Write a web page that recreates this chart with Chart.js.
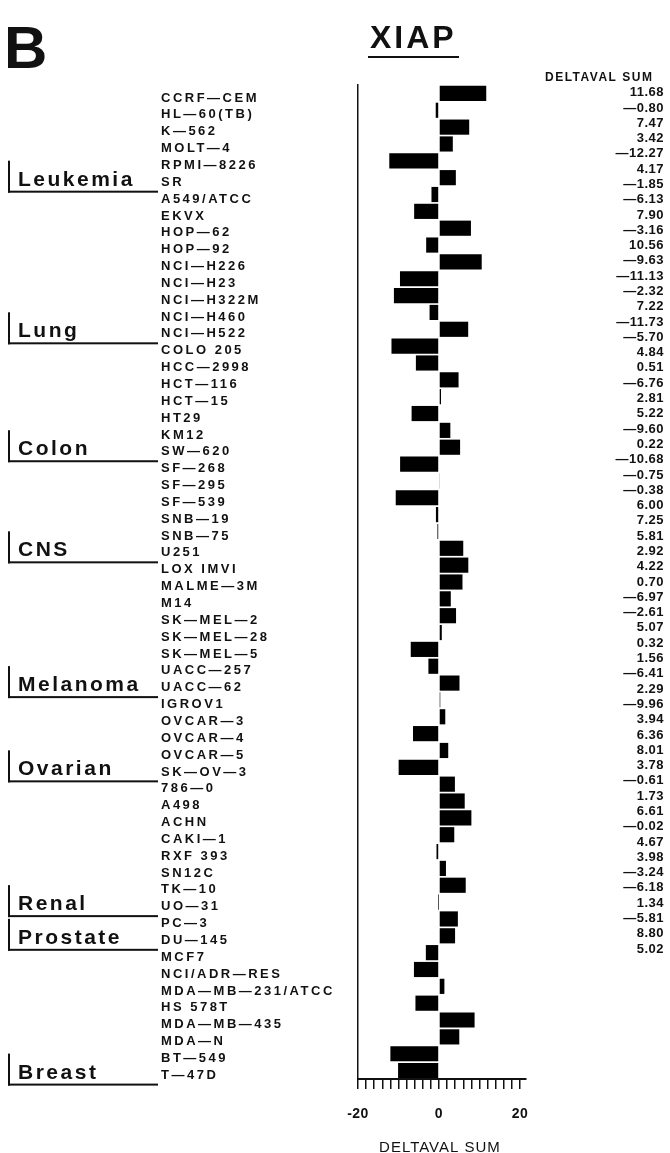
<!DOCTYPE html>
<html>
<head>
<meta charset="utf-8">
<script src="https://cdn.jsdelivr.net/npm/chart.js@4.4.1/dist/chart.umd.min.js"></script>
<style>
  html, body { margin: 0; padding: 0; background: #fff; }
  #xiap-chart { display: block; }
</style>
</head>
<body>
<canvas id="xiap-chart" width="670" height="1153"></canvas>
<script>
const cellLines = [
  'CCRF-CEM', 'HL-60(TB)', 'K-562', 'MOLT-4', 'RPMI-8226', 'SR',
  'A549/ATCC', 'EKVX', 'HOP-62', 'HOP-92', 'NCI-H226', 'NCI-H23', 'NCI-H322M', 'NCI-H460', 'NCI-H522',
  'COLO 205', 'HCC-2998', 'HCT-116', 'HCT-15', 'HT29', 'KM12', 'SW-620',
  'SF-268', 'SF-295', 'SF-539', 'SNB-19', 'SNB-75', 'U251',
  'LOX IMVI', 'MALME-3M', 'M14', 'SK-MEL-2', 'SK-MEL-28', 'SK-MEL-5', 'UACC-257', 'UACC-62',
  'IGROV1', 'OVCAR-3', 'OVCAR-4', 'OVCAR-5', 'SK-OV-3',
  '786-0', 'A498', 'ACHN', 'CAKI-1', 'RXF 393', 'SN12C', 'TK-10', 'UO-31',
  'PC-3', 'DU-145',
  'MCF7', 'NCI/ADR-RES', 'MDA-MB-231/ATCC', 'HS 578T', 'MDA-MB-435', 'MDA-N', 'BT-549', 'T-47D'
];

// last two (BT-549, T-47D) are read off the bars, they have no printed value
const deltavalSum = [
  11.68, -0.80, 7.47, 3.42, -12.27, 4.17,
  -1.85, -6.13, 7.90, -3.16, 10.56, -9.63, -11.13, -2.32, 7.22,
  -11.73, -5.70, 4.84, 0.51, -6.76, 2.81, 5.22,
  -9.60, 0.22, -10.68, -0.75, -0.38, 6.00,
  7.25, 5.81, 2.92, 4.22, 0.70, -6.97, -2.61, 5.07,
  0.32, 1.56, -6.41, 2.29, -9.96,
  3.94, 6.36, 8.01, 3.78, -0.61, 1.73, 6.61, -0.02,
  4.67, 3.98,
  -3.24, -6.18, 1.34, -5.81, 8.80, 5.02, -12.0, -10.1
];
const printedCount = 57;

const panels = ['Leukemia', 'Lung', 'Colon', 'CNS', 'Melanoma', 'Ovarian', 'Renal', 'Prostate', 'Breast'];
const panelLastRow = [5, 14, 21, 27, 35, 40, 48, 50, 58];

const xLabelTicks = [-20, 0, 20];

const ink = '#111';
const face = "'Liberation Sans', Arial, Helvetica, sans-serif";
const labelShift = 4.6;

const longDash = (s) => s.replace(/-/g, '\u2014');

// printed column is packed tighter than the bars, so it gets its own axis with blank rows at the end
const valueRows = deltavalSum.slice(0, printedCount).map((v) => longDash(v.toFixed(2)));
while (valueRows.length < 65) valueRows.push('');

const panelLabels = {
  id: 'panelLabels',
  beforeDraw(chart) {
    chart.ctx.letterSpacing = '2.5px';
  },
  beforeDatasetsDraw(chart) {
    chart.ctx.letterSpacing = '0.5px';
  },
  afterDraw(chart) {
    const {ctx, scales: {x, y}} = chart;
    ctx.save();
    ctx.fillStyle = ink;
    ctx.textBaseline = 'alphabetic';

    ctx.letterSpacing = '0px';
    ctx.font = `bold 60px ${face}`;
    ctx.textAlign = 'left';
    ctx.fillText('B', 4, 68);

    ctx.letterSpacing = '3px';
    ctx.font = `bold 32px ${face}`;
    ctx.fillText('XIAP', 370, 48);
    ctx.fillRect(368, 56, 91, 2);

    ctx.letterSpacing = '1.5px';
    ctx.font = `bold 12px ${face}`;
    ctx.fillText('DELTAVAL SUM', 545, 81);

    ctx.letterSpacing = '1px';
    ctx.font = `15px ${face}`;
    ctx.textAlign = 'center';
    ctx.fillText('DELTAVAL SUM', x.getPixelForValue(0) + 1, 1152);

    const rowH = y.getPixelForValue(1) - y.getPixelForValue(0);
    ctx.letterSpacing = '2.5px';
    ctx.font = `bold 21px ${face}`;
    ctx.textAlign = 'left';
    panels.forEach((name, i) => {
      const lineY = y.getPixelForValue(panelLastRow[i]) + rowH / 2 + labelShift + 1;
      ctx.fillRect(8, lineY - 31, 2, 32);
      ctx.fillRect(8, lineY - 1, 150, 2);
      ctx.fillText(name, 18, lineY - 6);
    });
    ctx.restore();
  }
};

const ctx = document.getElementById('xiap-chart').getContext('2d');

new Chart(ctx, {
  type: 'bar',
  data: {
    labels: cellLines,
    datasets: [{
      data: deltavalSum,
      backgroundColor: '#000',
      borderWidth: 0,
      barPercentage: 0.9,
      categoryPercentage: 1,
      xAxisID: 'x',
      yAxisID: 'y'
    }]
  },
  options: {
    indexAxis: 'y',
    responsive: false,
    animation: false,
    devicePixelRatio: 1,
    layout: {
      padding: {left: 161, right: 6, top: 85, bottom: 0}
    },
    scales: {
      x: {
        type: 'linear',
        position: 'bottom',
        min: -20,
        max: 21.5,
        grid: {
          display: true,
          drawOnChartArea: false,
          drawTicks: true,
          tickLength: 10,
          color: ink,
          lineWidth: 1.5,
          z: 1
        },
        border: {display: true, color: ink, width: 2, z: 1},
        ticks: {
          stepSize: 2,
          autoSkip: false,
          maxRotation: 0,
          includeBounds: false,
          padding: 17,
          z: 1,
          color: ink,
          font: {family: face, size: 14, weight: 'bold'},
          callback: (v) => (xLabelTicks.includes(v) ? String(v) : '')
        },
        afterFit: (scale) => { scale.height = 74; }
      },
      y: {
        type: 'category',
        position: 'left',
        offset: true,
        grid: {display: false},
        border: {display: true, color: ink, width: 1.5},
        ticks: {
          autoSkip: false,
          crossAlign: 'far',
          labelOffset: labelShift,
          padding: 0,
          color: ink,
          font: {family: face, size: 13, weight: 'bold'},
          callback: (v, i) => longDash(cellLines[i])
        },
        afterFit: (scale) => { scale.width = 197; }
      },
      yv: {
        type: 'category',
        position: 'right',
        offset: true,
        labels: valueRows,
        grid: {display: false},
        border: {display: false},
        ticks: {
          autoSkip: false,
          crossAlign: 'far',
          padding: 0,
          z: 1,
          color: ink,
          font: {family: face, size: 13, weight: 'bold'}
        },
        afterFit: (scale) => { scale.width = 138; }
      }
    },
    plugins: {
      legend: {display: false},
      tooltip: {enabled: false}
    }
  },
  plugins: [panelLabels]
});
</script>
</body>
</html>
